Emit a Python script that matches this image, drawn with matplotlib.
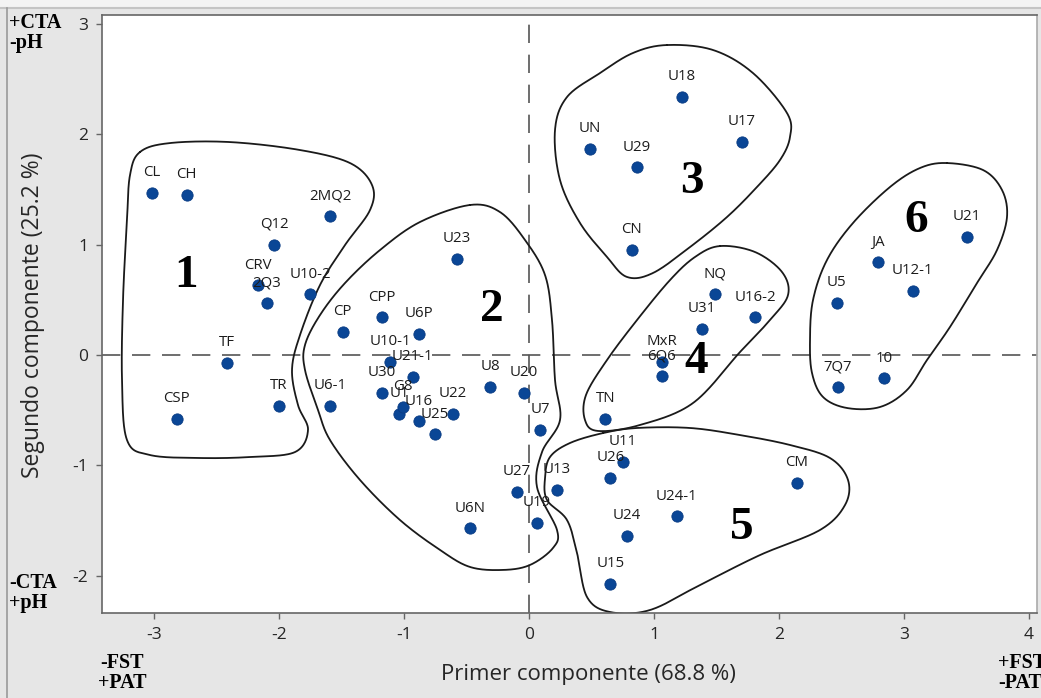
import numpy as np
import matplotlib
matplotlib.use("Agg")
import matplotlib.pyplot as plt
from matplotlib.lines import Line2D

plt.rcParams['font.family'] = ['Open Sans', 'DejaVu Sans']

# Sample scores on the first two principal components
names = ["CL", "CH", "2MQ2", "Q12", "CRV", "2Q3", "U10-2", "CP", "TF", "TR",
         "CSP", "U6-1", "CPP", "U6P", "U10-1", "U21-1", "U30", "U1", "G8", "U16",
         "U22", "U25", "U8", "U20", "U7", "U23", "U6N", "U27", "U13", "U19",
         "U26", "U11", "U24", "U15", "U24-1", "CM", "MxR", "6Q6", "U31", "TN",
         "NQ", "U16-2", "U18", "UN", "U29", "U17", "CN", "U21", "JA", "U12-1",
         "U5", "7Q7", "10"]
pc1 = [-3.02, -2.74, -1.59, -2.04, -2.17, -2.10, -1.75, -1.49, -2.42, -2.00,
       -2.82, -1.59, -1.18, -0.88, -1.11, -0.93, -1.18, -1.04, -1.01, -0.88,
       -0.61, -0.75, -0.31, -0.04, 0.09, -0.58, -0.47, -0.10, 0.22, 0.06,
       0.65, 0.75, 0.78, 0.65, 1.18, 2.14, 1.06, 1.06, 1.38, 0.61,
       1.49, 1.81, 1.22, 0.49, 0.86, 1.70, 0.82, 3.50, 2.79, 3.07,
       2.46, 2.47, 2.84]
pc2 = [1.47, 1.45, 1.26, 1.00, 0.63, 0.47, 0.55, 0.21, -0.07, -0.46,
       -0.58, -0.46, 0.34, 0.19, -0.06, -0.20, -0.34, -0.53, -0.47, -0.60,
       -0.53, -0.72, -0.29, -0.34, -0.68, 0.87, -1.57, -1.24, -1.22, -1.52,
       -1.11, -0.97, -1.64, -2.07, -1.46, -1.16, -0.06, -0.19, 0.24, -0.58,
       0.55, 0.34, 2.34, 1.87, 1.70, 1.93, 0.95, 1.07, 0.84, 0.58,
       0.47, -0.29, -0.21]

x_ticks = [-3, -2, -1, 0, 1, 2, 3, 4]
y_ticks = [-2, -1, 0, 1, 2, 3]

# Hand-drawn group boundaries (closed curves, PC score units)
group_outlines = {
    "1": [(-3.112, 1.839), (-2.872, 1.920), (-2.392, 1.929), (-1.832, 1.857),
          (-1.432, 1.739), (-1.256, 1.540), (-1.272, 1.313), (-1.472, 0.996),
          (-1.672, 0.634), (-1.832, 0.181), (-1.896, -0.136), (-1.848, -0.453),
          (-1.768, -0.679), (-1.872, -0.879), (-2.232, -0.924), (-2.632, -0.933),
          (-3.032, -0.906), (-3.216, -0.770), (-3.256, -0.226), (-3.248, 0.498),
          (-3.216, 1.223), (-3.192, 1.630)],
    "2": [(-0.472, 1.359), (-0.232, 1.295), (-0.032, 1.042), (0.128, 0.725),
          (0.184, 0.317), (0.208, -0.226), (0.248, -0.589), (0.104, -0.879),
          (0.064, -1.196), (0.224, -1.585), (0.192, -1.748), (0.008, -1.902),
          (-0.208, -1.947), (-0.472, -1.920), (-0.712, -1.766), (-1.032, -1.495),
          (-1.352, -1.132), (-1.592, -0.770), (-1.688, -0.498), (-1.792, -0.136),
          (-1.792, 0.091), (-1.672, 0.362), (-1.472, 0.652), (-1.192, 0.951),
          (-0.872, 1.205)],
    "3": [(1.104, 2.808), (1.472, 2.763), (1.792, 2.554), (2.064, 2.192),
          (2.088, 1.975), (2.008, 1.766), (1.824, 1.522), (1.584, 1.250),
          (1.288, 0.978), (0.992, 0.743), (0.784, 0.707), (0.624, 0.888),
          (0.408, 1.196), (0.248, 1.585), (0.208, 2.038), (0.304, 2.337),
          (0.568, 2.554), (0.832, 2.736)],
    "4": [(1.528, 0.987), (1.808, 0.933), (2.024, 0.752), (2.072, 0.543),
          (1.928, 0.317), (1.688, 0.027), (1.312, -0.435), (0.888, -0.634),
          (0.552, -0.688), (0.448, -0.589), (0.456, -0.362), (0.624, -0.045),
          (0.864, 0.317), (1.128, 0.679), (1.328, 0.888)],
    "5": [(0.592, -0.707), (0.864, -0.661), (1.288, -0.661), (1.688, -0.725),
          (2.088, -0.815), (2.408, -0.933), (2.552, -1.132), (2.528, -1.359),
          (2.328, -1.585), (1.848, -1.812), (1.368, -2.083), (0.968, -2.310),
          (0.648, -2.328), (0.464, -2.192), (0.384, -1.793), (0.304, -1.495),
          (0.144, -1.313), (0.128, -1.114), (0.168, -0.924), (0.328, -0.797)],
    "6": [(3.344, 1.739), (3.632, 1.676), (3.784, 1.495), (3.824, 1.250),
          (3.744, 0.951), (3.584, 0.652), (3.368, 0.254), (3.184, -0.045),
          (3.024, -0.317), (2.808, -0.471), (2.544, -0.480), (2.352, -0.380),
          (2.264, -0.163), (2.248, 0.136), (2.272, 0.498), (2.384, 0.861),
          (2.592, 1.196), (2.888, 1.522), (3.128, 1.694)],
}
group_label_pos = {"1": (-2.74, 0.72), "2": (-0.30, 0.41), "3": (1.30, 1.57),
                   "4": (1.34, -0.06), "5": (1.70, -1.57), "6": (3.10, 1.21)}


def closed_spline(pts, n=30):
    """Closed uniform Catmull-Rom curve through the given vertices."""
    p = np.asarray(pts, dtype=float)
    m = len(p)
    out = []
    t = np.linspace(0, 1, n, endpoint=False)[:, None]
    for i in range(m):
        p0, p1, p2, p3 = p[(i - 1) % m], p[i], p[(i + 1) % m], p[(i + 2) % m]
        seg = 0.5 * ((2 * p1) + (-p0 + p2) * t
                     + (2 * p0 - 5 * p1 + 4 * p2 - p3) * t ** 2
                     + (-p0 + 3 * p1 - 3 * p2 + p3) * t ** 3)
        out.append(seg)
    out = np.vstack(out)
    return np.vstack([out, out[:1]])


W, H = 1041, 698
fig = plt.figure(figsize=(W / 100, H / 100), dpi=100, facecolor='#e6e6e6')
ax = fig.add_axes([102 / W, (H - 613) / H, (1037 - 102) / W, (613 - 15) / H])
ax.set_facecolor('white')

ax.set_xlim(-3.416, 4.064)
ax.set_ylim(-2.337, 3.08)

# Reference lines at the origin
ax.axvline(0, color='#555555', lw=1.2, dashes=(11, 7), zorder=1)
ax.axhline(0, color='#555555', lw=1.2, dashes=(11, 7), zorder=1)

# Group outlines
for key, verts in group_outlines.items():
    c = closed_spline(verts)
    ax.plot(c[:, 0], c[:, 1], color='#1a1a1a', lw=1.3, zorder=2,
            solid_capstyle='round')
    gx, gy = group_label_pos[key]
    ax.text(gx, gy, key, fontsize=34, fontweight='bold',
            family=['Liberation Serif', 'DejaVu Serif'],
            ha='center', va='center', color='black', zorder=4)

# Scores
ax.scatter(pc1, pc2, s=66, color='#0a4696', edgecolors='#0a3c84',
           linewidths=0.6, zorder=3)
for name, x, y in zip(names, pc1, pc2):
    ax.annotate(name, (x, y), xytext=(0, 14.5), textcoords='offset points',
                ha='center', va='center', fontsize=10.8, color='#1c1c1c',
                zorder=4)

ax.set_xticks(x_ticks)
ax.set_yticks(y_ticks)
ax.set_xticklabels([f"{v}" for v in x_ticks])
ax.set_yticklabels([f"{v}" for v in y_ticks])
ax.tick_params(axis='both', direction='out', length=4, width=1,
               color='#666666', labelsize=12.5, labelcolor='#262626', pad=6)
for side in ['left', 'bottom', 'top', 'right']:
    ax.spines[side].set_color('#666666')
    ax.spines[side].set_linewidth(1.2)
ax.spines['right'].set_color('#aaaaaa')

ax.set_xlabel("Primer componente (68.8 %)", fontsize=16, color='#262626')
ax.set_ylabel("Segundo componente (25.2 %)", fontsize=16.5, color='#262626')
ax.xaxis.set_label_coords((588 - 102) / (1037 - 102), -(664 - 613) / (613 - 15))
ax.yaxis.set_label_coords(-(102 - 45) / (1037 - 102), (613 - 315) / (613 - 15))

# Variable-direction notes on the figure margins
serif = ['Liberation Serif', 'DejaVu Serif']
note_kw = dict(fontsize=14.5, fontweight='bold', family=serif, color='black',
               linespacing=1.0)
fig.text(9 / W, 1 - 13 / H, "+CTA\n-pH", ha='left', va='top', **note_kw)
fig.text(9 / W, 1 - 573 / H, "-CTA\n+pH", ha='left', va='top', **note_kw)
fig.text(122 / W, 1 - 653 / H, "-FST\n+PAT", ha='center', va='top', **note_kw)
fig.text(998 / W, 1 - 653 / H, "+FST\n-PAT", ha='left', va='top', **note_kw)

# Window frame strips
fig.add_artist(plt.Rectangle((0, 1 - 7 / H), 1, 7 / H, transform=fig.transFigure,
                             facecolor='#f3f3f3', edgecolor='none'))
fig.add_artist(Line2D([0, 1], [1 - 8 / H, 1 - 8 / H], transform=fig.transFigure,
                      color='#c4c4c4', lw=1.5))
fig.add_artist(Line2D([7 / W, 7 / W], [0, 1 - 8 / H], transform=fig.transFigure,
                      color='#9a9a9a', lw=1.2))

fig.savefig("out.png", dpi=100, facecolor=fig.get_facecolor())
